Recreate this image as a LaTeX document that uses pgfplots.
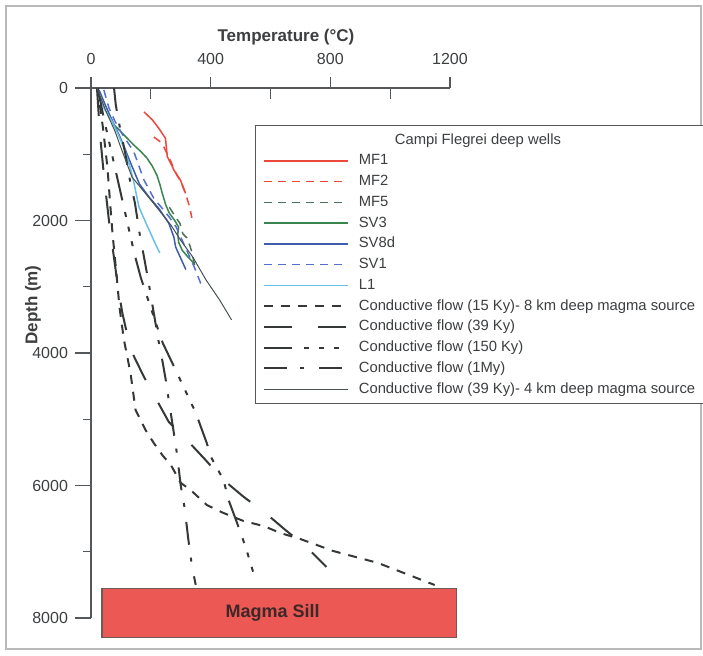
\documentclass[border=0pt]{standalone}
\usepackage{fontspec}
\setmainfont{Liberation Sans}
\usepackage{pgfplots}
\pgfplotsset{compat=1.18}
\definecolor{axisgray}{RGB}{85,88,90}
\definecolor{labgray}{RGB}{60,62,64}
\definecolor{mfred}{RGB}{236,72,62}
\definecolor{mfgreen}{RGB}{78,112,92}
\definecolor{svgreen}{RGB}{58,132,78}
\definecolor{svblue}{RGB}{62,92,172}
\definecolor{svblued}{RGB}{84,112,204}
\definecolor{lblue}{RGB}{104,192,228}
\definecolor{cond}{RGB}{52,56,56}
\definecolor{condthin}{RGB}{72,82,82}
\definecolor{sillred}{RGB}{236,88,84}
\definecolor{sillborder}{RGB}{110,90,90}
\begin{document}
\begin{tikzpicture}[x=1pt,y=1pt]
\useasboundingbox (-45.5,-18.5) rectangle (306,309);
\draw[gray!55, line width=0.6pt] (-42.5,-15.5) rectangle (305,306);
\begin{axis}[
  at={(0,0)}, anchor=south west,
  scale only axis, width=179.5pt, height=265pt,
  xmin=0, xmax=1200, ymin=0, ymax=8000, y dir=reverse,
  axis x line*=top, axis y line*=left,
  clip=false,
  xtick={0,400,800,1200}, xticklabels={0,400,800,1200},
  ytick={0,2000,4000,6000,8000}, yticklabels={0,2000,4000,6000,8000},
  minor ytick={1000,3000,5000,7000},
  xtick align=outside, ytick align=outside,
  major tick length=8pt, minor tick length=4pt,
  xtick style={/pgfplots/major tick length=5.5pt},
  extra x ticks={200,600,1000}, extra x tick labels={},
  extra x tick style={xtick align=inside, /pgfplots/major tick length=4pt},
  tick style={color=axisgray, line width=0.6pt},
  axis line style={color=axisgray, line width=0.6pt},
  ticklabel style={font=\fontsize{8}{9.5}\selectfont, text=labgray},
  legend style={at={(axis cs:547,558)}, anchor=north west, draw=axisgray, line width=0.6pt,
    font=\fontsize{7.4}{8.5}\selectfont, text=labgray, inner xsep=4pt, inner ysep=2.85pt,
    row sep=1.575pt, nodes={inner sep=0.8pt, text height=5.6pt, text depth=1.6pt},
    /tikz/every odd column/.append style={column sep=4pt}},
  legend cell align=left,
  legend image code/.code={\draw[#1] (0pt,0pt) -- (42pt,0pt);},
]
\addlegendimage{empty legend}
\addlegendentry{\hspace*{18pt}Campi Flegrei deep wells}

% wells
\addplot[mfred, line width=0.75pt] coordinates {(177,360) (205,480) (227,610) (249,760) (252,900) (255,1036) (268,1150) (277,1237) (290,1330) (299,1390) (307,1480) (316,1590)};
\addlegendentry{MF1}
\addplot[mfred, line width=0.75pt, dash pattern=on 4pt off 3pt] coordinates {(210,740) (233,815) (245,900) (255,1000) (268,1120) (280,1250) (295,1380) (305,1470) (315,1580) (322,1680) (330,1800) (337,1960)};
\addlegendentry{MF2}
\addplot[mfgreen, line width=0.75pt, dash pattern=on 4pt off 3pt] coordinates {(262,1800) (280,1930) (297,2040) (307,2200) (320,2260) (330,2370) (338,2490) (343,2600) (347,2690)};
\addlegendentry{MF5}
\addplot[svgreen, line width=0.75pt] coordinates {(75,550) (87,600) (115,730) (143,860) (167,960) (187,1057) (205,1180) (220,1313) (230,1450) (237,1570) (250,1766) (262,1890) (280,2000) (293,2100) (290,2200) (293,2330) (305,2450) (322,2540) (345,2650)};
\addlegendentry{SV3}
\addplot[svblue, line width=0.75pt] coordinates {(27,30) (50,280) (74,520) (95,720) (112,900) (135,1160) (162,1450) (193,1640) (227,1820) (260,2040) (277,2250) (283,2400) (303,2600) (317,2740)};
\addlegendentry{SV8d}
\addplot[svblued, line width=0.75pt, dash pattern=on 4pt off 3pt] coordinates {(43,30) (60,300) (80,500) (105,700) (143,960) (155,1110) (177,1388) (210,1665) (238,1816) (262,1950) (285,2100) (300,2250) (317,2420) (330,2550) (345,2700) (360,2870) (371,3000)};
\addlegendentry{SV1}
\addplot[lblue, line width=0.75pt] coordinates {(25,50) (43,300) (70,500) (87,664) (110,900) (128,1150) (143,1419) (160,1790) (178,1980) (195,2150) (212,2320) (230,2490)};
\addlegendentry{L1}

% conductive models
\addplot[cond, line width=1pt, dash pattern=on 4.5pt off 4pt] coordinates {(22,0) (40,600) (55,1200) (65,1800) (72,2200) (85,2800) (95,3300) (110,3800) (132,4300) (149,4860) (182,5160) (210,5360) (240,5550) (267,5690) (300,5960) (333,6068) (387,6294) (443,6415) (510,6536) (577,6611) (633,6717) (700,6808) (810,6989) (960,7170) (1149,7502)};
\addlegendentry{Conductive flow (15 Ky)- 8 km deep magma source}
\addplot[cond, line width=1pt, dash pattern=on 14pt off 13pt] coordinates {(20,0) (30,700) (45,1400) (60,2000) (75,2500) (90,3000) (105,3400) (120,3700) (137,3990) (177,4360) (216,4680) (260,5040) (320,5310) (383,5615) (443,5917) (510,6170) (583,6415) (650,6672) (720,6928) (787,7230)};
\addlegendentry{Conductive flow (39 Ky)}
\addplot[cond, line width=1pt, dash pattern=on 14pt off 6pt on 2.5pt off 5pt on 2.5pt off 5pt on 2.5pt off 6pt] coordinates {(22,0) (45,500) (70,1000) (100,1600) (125,2100) (145,2500) (167,2870) (217,3550) (240,3850) (283,4257) (327,4680) (350,4900) (387,5360) (403,5585) (443,5917) (460,6219) (503,6747) (520,6974) (550,7426)};
\addlegendentry{Conductive flow (150 Ky)}
\addplot[cond, line width=1pt, dash pattern=on 11.5pt off 6.5pt on 2pt off 7.5pt] coordinates {(77,0) (83,260) (95,560) (115,1000) (130,1390) (147,1740) (163,2210) (180,2620) (195,3000) (210,3400) (225,3800) (240,4150) (250,4410) (260,4710) (277,5210) (287,5510) (300,6000) (313,6340) (325,6800) (337,7200) (350,7500)};
\addlegendentry{Conductive flow (1My)}
\addplot[condthin, line width=0.5pt] coordinates {(20,0) (50,350) (80,650) (100,900) (137,1343) (200,1690) (267,2068) (300,2300) (340,2550) (385,2900) (430,3200) (470,3500)};
\addlegendentry{Conductive flow (39 Ky)- 4 km deep magma source}

\draw[draw=sillborder, fill=sillred, line width=0.6pt] (axis cs:37,7550) rectangle (axis cs:1223,8290);
\node[font=\bfseries\fontsize{9}{10}\selectfont, text={rgb,255:red,60;green,40;blue,40}] at (axis cs:607,7925) {Magma Sill};
\end{axis}
\node[font=\bfseries\fontsize{8.5}{10}\selectfont, text=labgray] at (97.5,290.5) {Temperature (°C)};
\node[rotate=90, font=\bfseries\fontsize{8.5}{10}\selectfont, text=labgray] at (-29,156.5) {Depth (m)};
\end{tikzpicture}
\end{document}
